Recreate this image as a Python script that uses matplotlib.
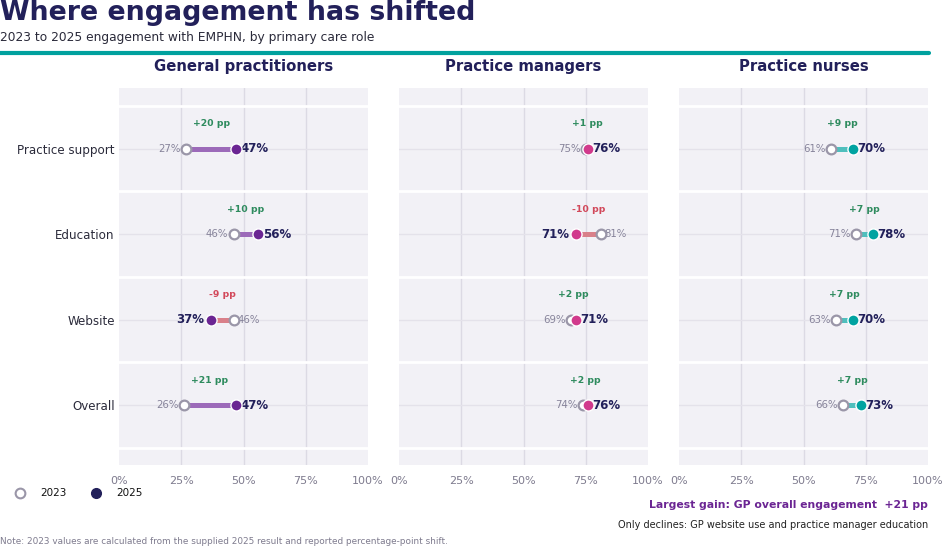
import matplotlib
matplotlib.use("Agg")
import matplotlib.pyplot as plt
from matplotlib.lines import Line2D

plt.rcParams['font.family'] = ['DejaVu Sans']

categories = ["Practice support", "Education", "Website", "Overall"]
roles = ["General practitioners", "Practice managers", "Practice nurses"]
values_2023 = {
    "General practitioners": [27, 46, 46, 26],
    "Practice managers": [75, 81, 69, 74],
    "Practice nurses": [61, 71, 63, 66],
}
values_2025 = {
    "General practitioners": [47, 56, 37, 47],
    "Practice managers": [76, 71, 71, 76],
    "Practice nurses": [70, 78, 70, 73],
}
tick_values = [0, 25, 50, 75, 100]
tick_labels = ["0%", "25%", "50%", "75%", "100%"]

role_dot = {"General practitioners": "#6B2593",
            "Practice managers": "#D13A8C",
            "Practice nurses": "#00A3A1"}
role_line = {"General practitioners": "#9C6AB9",
             "Practice managers": "#E07CA9",
             "Practice nurses": "#4FBFBD"}
decline_line = "#D9808A"
navy = "#22205A"
gray = "#9A96A8"
green = "#2E8B5E"
red = "#D2485A"
panel_bg = "#F2F1F6"

W, H = 943, 546
fig = plt.figure(figsize=(W / 100, H / 100), dpi=100)
fig.patch.set_facecolor("white")

def fx(px):
    return px / W

def fy(py):
    return 1 - py / H

fig.text(fx(0), fy(13), "Where engagement has shifted", fontsize=19.3,
         fontweight="bold", color=navy, ha="left", va="center")
fig.text(fx(0), fy(37), "2023 to 2025 engagement with EMPHN, by primary care role",
         fontsize=8.8, color="#2a2a3a", ha="left", va="center")
fig.add_artist(Line2D([fx(0), fx(929)], [fy(53), fy(53)], color="#00A19E",
                      lw=3, solid_capstyle="round", transform=fig.transFigure))

panel_left = [119, 399, 679]
panel_w = 249
top, bottom = 88, 465
ypos = list(range(len(categories)))

for i, role in enumerate(roles):
    ax = fig.add_axes([fx(panel_left[i]), fy(bottom), panel_w / W, (bottom - top) / H])
    ax.set_facecolor(panel_bg)
    for s in ax.spines.values():
        s.set_visible(False)
    ax.set_xlim(0, 100)
    ax.set_ylim(3.7, -0.71)
    for t in tick_values[1:-1]:
        ax.axvline(t, color="#DCDAE4", lw=1, zorder=1)
    for y in ypos:
        ax.axhline(y, color="#E4E2EA", lw=1, zorder=1)
    for b in [-0.5, 0.5, 1.5, 2.5, 3.5]:
        ax.axhline(b, color="white", lw=2, zorder=1.5)
    ax.set_xticks(tick_values)
    ax.set_xticklabels(tick_labels)
    ax.tick_params(axis="x", length=0, pad=8, labelsize=8, labelcolor="#7E7B8E")
    if i == 0:
        ax.set_yticks(ypos)
        ax.set_yticklabels(categories)
        ax.tick_params(axis="y", length=0, pad=3, labelsize=8.6, labelcolor="#2b2b3b")
    else:
        ax.set_yticks([])
    ax.set_title(role, fontsize=10.7, fontweight="bold", color=navy, pad=12)

    v23s = values_2023[role]
    v25s = values_2025[role]
    for y, v23, v25 in zip(ypos, v23s, v25s):
        up = v25 >= v23
        lc = role_line[role] if up else decline_line
        ax.plot([v23, v25], [y, y], color=lc, lw=3.6, solid_capstyle="butt", zorder=2)
        ax.plot([v23], [y], marker="o", ms=7, mfc="white", mec=gray, mew=1.6, zorder=4)
        ax.plot([v25], [y], marker="o", ms=8, mfc=role_dot[role], mec="white", mew=1, zorder=5)
        d = v25 - v23
        if up:
            ax.annotate(f"{v23}%", (v23, y), xytext=(-4, 0), textcoords="offset points",
                        ha="right", va="center", fontsize=7.3, color="#86839A", zorder=3)
            ax.annotate(f"{v25}%", (v25, y), xytext=(3, 0), textcoords="offset points",
                        ha="left", va="center", fontsize=8.5, fontweight="bold", color=navy, zorder=3)
        else:
            ax.annotate(f"{v23}%", (v23, y), xytext=(3, 0), textcoords="offset points",
                        ha="left", va="center", fontsize=7.3, color="#86839A", zorder=3)
            ax.annotate(f"{v25}%", (v25, y), xytext=(-5, 0), textcoords="offset points",
                        ha="right", va="center", fontsize=8.5, fontweight="bold", color=navy, zorder=3)
        ax.text((v23 + v25) / 2, y - 0.29, f"{d:+d} pp", ha="center", va="center",
                fontsize=6.7, fontweight="bold", color=green if d > 0 else red, zorder=3)

# legend
fig.add_artist(Line2D([fx(20)], [fy(493)], marker="o", ms=7, mfc="white", mec=gray,
                      mew=1.5, transform=fig.transFigure))
fig.text(fx(40), fy(493), "2023", fontsize=7.5, color="#111", ha="left", va="center")
fig.add_artist(Line2D([fx(96)], [fy(493)], marker="o", ms=7, mfc=navy, mec=navy,
                      transform=fig.transFigure))
fig.text(fx(116), fy(493), "2025", fontsize=7.5, color="#111", ha="left", va="center")

fig.text(fx(928), fy(505), "Largest gain: GP overall engagement  +21 pp", fontsize=7.8,
         fontweight="bold", color="#6B2593", ha="right", va="center")
fig.text(fx(928), fy(525), "Only declines: GP website use and practice manager education",
         fontsize=7.0, color="#222", ha="right", va="center")
fig.text(fx(0), fy(541), "Note: 2023 values are calculated from the supplied 2025 result and reported percentage-point shift.",
         fontsize=6.4, color="#7E7B8E", ha="left", va="center")

fig.savefig("out.png", dpi=100, facecolor="white")
